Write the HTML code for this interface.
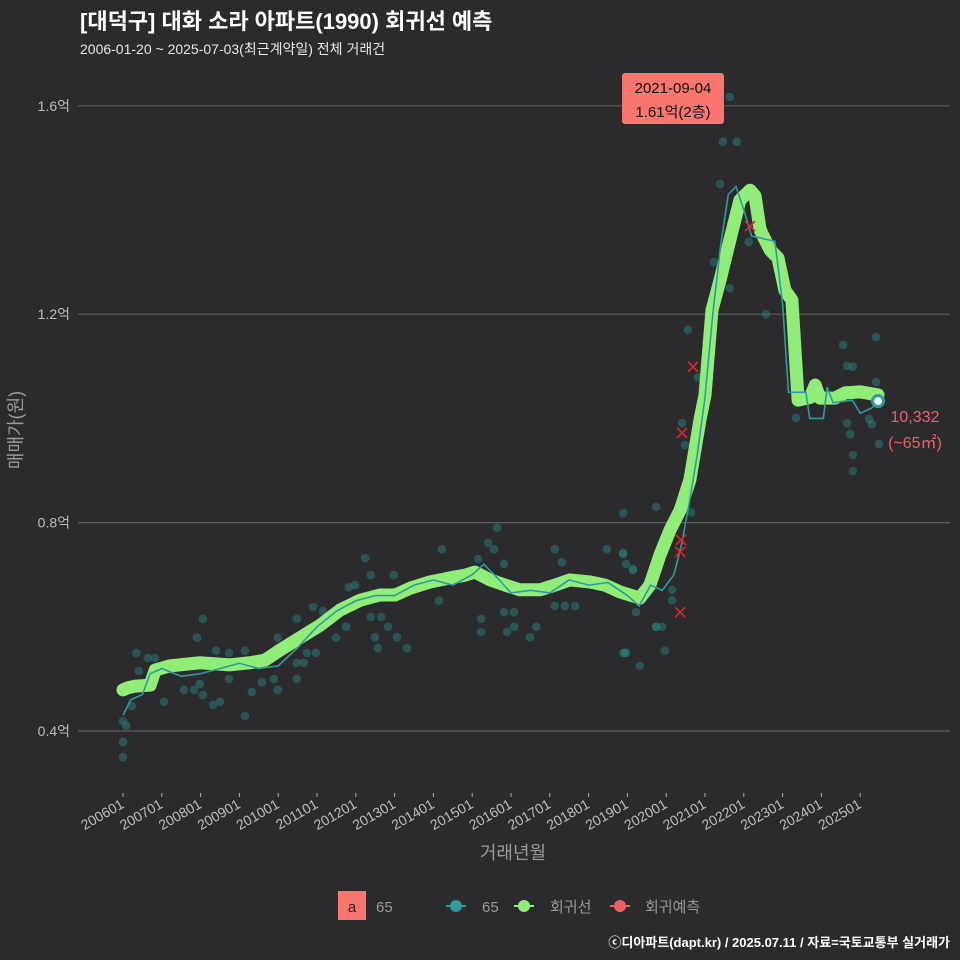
<!DOCTYPE html>
<html><head><meta charset="utf-8"><style>
body{margin:0;background:#2b2b2d;}
svg{display:block;font-family:"Liberation Sans","Noto Sans CJK KR",sans-serif;}
</style></head><body>
<svg id="c" width="960" height="960" viewBox="0 0 960 960">
<rect width="960" height="960" fill="#2b2b2d"/>
<text x="80" y="29" fill="#fff" font-size="22" font-weight="bold">[대덕구] 대화 소라 아파트(1990) 회귀선 예측</text>
<text x="80" y="54" fill="#e8e8e8" font-size="14">2006-01-20 ~ 2025-07-03(최근계약일) 전체 거래건</text>
<g id="grid"></g><g id="dots"></g><g id="lines"></g><g id="xticks"></g>
<text x="513" y="859" fill="#9a9a9a" font-size="18" text-anchor="middle">거래년월</text>
<text transform="translate(22,430) rotate(-90)" fill="#9a9a9a" font-size="18" text-anchor="middle">매매가(원)</text>
<g>
<rect x="338" y="891" width="28" height="29" fill="#f8766d"/>
<text x="352" y="912" font-size="15" text-anchor="middle" fill="#222">a</text>
<text x="376" y="912" font-size="15" fill="#999">65</text>
<g><line x1="446" y1="906" x2="466" y2="906" stroke="#2e9a9e" stroke-width="2"/><circle cx="456" cy="906" r="6" fill="#2e9a9e"/><text x="482" y="912" font-size="15" fill="#999">65</text></g>
<g><line x1="514" y1="906" x2="534" y2="906" stroke="#90ee78" stroke-width="2"/><circle cx="524" cy="906" r="6" fill="#90ee78"/><text x="550" y="912" font-size="15" fill="#999">회귀선</text></g>
<g><line x1="610" y1="906" x2="630" y2="906" stroke="#f06060" stroke-width="2"/><circle cx="620" cy="906" r="6" fill="#f06060"/><text x="645" y="912" font-size="15" fill="#999">회귀예측</text></g>
</g>
<text x="950" y="947" fill="#fff" font-size="13" font-weight="bold" text-anchor="end">ⓒ디아파트(dapt.kr) / 2025.07.11 / 자료=국토교통부 실거래가</text>
</svg>
<script>
const yTicks=[0.4,0.8,1.2,1.6];
const xTickYears=[2006,2007,2008,2009,2010,2011,2012,2013,2014,2015,2016,2017,2018,2019,2020,2021,2022,2023,2024,2025];
const regT=[2006.0,2006.13,2006.31,2006.70,2006.83,2007.21,2007.98,2008.76,2009.27,2009.66,2010.04,2010.56,2011.08,2011.59,2012.11,2012.62,2013.01,2013.40,2013.91,2014.43,2014.81,2015.07,2015.46,2015.85,2016.23,2016.75,2017.13,2017.52,2018.04,2018.42,2018.81,2019.32,2019.58,2019.84,2020.10,2020.36,2020.61,2020.87,2021.0,2021.18,2021.39,2021.64,2021.90,2022.16,2022.29,2022.42,2022.68,2022.88,2023.06,2023.24,2023.40,2023.71,2023.84,2023.96,2024.35,2024.61,2024.99,2025.46];
const regV=[0.479,0.483,0.486,0.488,0.517,0.525,0.531,0.527,0.531,0.536,0.555,0.579,0.603,0.632,0.651,0.661,0.661,0.674,0.686,0.694,0.699,0.705,0.690,0.680,0.671,0.671,0.680,0.690,0.686,0.680,0.667,0.655,0.680,0.738,0.786,0.824,0.882,0.997,1.045,1.208,1.266,1.342,1.419,1.438,1.427,1.362,1.323,1.308,1.246,1.227,1.035,1.040,1.064,1.039,1.039,1.049,1.051,1.045];
const actT=[2006.0,2006.2,2006.5,2006.7,2007.0,2007.5,2008,2008.5,2009,2009.5,2010,2010.5,2011,2011.5,2012,2012.5,2013,2013.5,2014,2014.5,2015,2015.3,2015.7,2016,2016.5,2017,2017.5,2018,2018.5,2019,2019.3,2019.6,2019.9,2020.2,2020.4,2020.6,2020.8,2021.0,2021.2,2021.4,2021.6,2021.8,2022.0,2022.2,2022.8,2023.0,2023.15,2023.6,2023.7,2024.05,2024.15,2024.3,2024.8,2025.0,2025.3,2025.46];
const actV=[0.43,0.46,0.47,0.51,0.52,0.505,0.51,0.52,0.53,0.52,0.525,0.56,0.60,0.63,0.65,0.66,0.66,0.68,0.69,0.68,0.70,0.72,0.69,0.665,0.67,0.665,0.69,0.68,0.685,0.66,0.64,0.68,0.67,0.70,0.76,0.84,0.93,1.04,1.20,1.33,1.43,1.445,1.40,1.35,1.34,1.22,1.05,1.05,1.00,1.00,1.06,1.03,1.035,1.01,1.02,1.033];
const dotT=[2006.0,2006.0,2006.08,2006.0,2006.23,2006.34,2006.41,2006.64,2006.82,2007.06,2007.57,2007.83,2007.91,2008.06,2007.98,2008.06,2008.32,2008.50,2008.40,2008.73,2008.73,2009.14,2009.14,2009.32,2009.58,2009.89,2009.99,2009.99,2010.48,2010.48,2010.66,2010.48,2010.90,2011.15,2010.74,2010.97,2011.49,2011.75,2011.82,2011.98,2012.24,2012.39,2012.39,2012.65,2012.49,2012.57,2012.83,2013.06,2013.32,2012.98,2014.22,2014.14,2015.15,2015.41,2015.64,2015.56,2015.82,2015.23,2015.23,2015.82,2016.08,2015.90,2016.08,2016.49,2016.65,2017.13,2017.31,2017.13,2017.39,2017.65,2018.47,2018.89,2018.96,2019.14,2018.89,2018.89,2018.96,2019.32,2019.74,2019.22,2021.39,2021.23,2021.64,2022.57,2022.13,2020.56,2020.82,2020.41,2020.48,2019.74,2020.64,2018.89,2019.14,2020.15,2020.15,2019.74,2019.89,2019.97,2018.94,2024.56,2025.41,2024.66,2024.81,2025.41,2023.35,2024.66,2024.74,2025.23,2025.30,2025.48,2024.81,2024.81,2021.64,2021.46,2021.82];
const dotV=[0.350,0.379,0.410,0.419,0.448,0.550,0.515,0.540,0.540,0.456,0.479,0.479,0.579,0.615,0.490,0.469,0.450,0.456,0.554,0.550,0.500,0.554,0.429,0.475,0.494,0.500,0.479,0.579,0.500,0.531,0.531,0.615,0.638,0.630,0.550,0.550,0.579,0.600,0.676,0.680,0.732,0.699,0.619,0.619,0.580,0.559,0.600,0.580,0.559,0.699,0.749,0.650,0.730,0.761,0.790,0.749,0.721,0.615,0.590,0.628,0.628,0.590,0.600,0.580,0.600,0.749,0.724,0.640,0.640,0.640,0.749,0.740,0.721,0.709,0.818,0.550,0.550,0.525,0.600,0.628,1.450,1.300,1.250,1.200,1.339,1.170,1.079,0.991,0.949,0.830,0.820,0.742,0.711,0.671,0.651,0.600,0.600,0.554,0.550,1.141,1.156,1.101,1.099,1.070,1.001,0.991,0.970,0.999,0.989,0.951,0.930,0.899,1.617,1.531,1.531];
const predT=[2020.36,2020.38,2020.36,2020.41,2020.69,2022.16];
const predV=[0.628,0.767,0.744,0.972,1.099,1.369];
const lastT=2025.46, lastV=1.0332;

const NS='http://www.w3.org/2000/svg';
const X=t=>123+(t-2006)*38.8;
const Y=v=>731-(v-0.4)/0.4*208.4;
function mk(tag,attrs,parent){const e=document.createElementNS(NS,tag);for(const k in attrs)e.setAttribute(k,attrs[k]);parent.appendChild(e);return e;}
const grid=document.getElementById('grid'),dots=document.getElementById('dots'),lines=document.getElementById('lines'),xt=document.getElementById('xticks');
yTicks.forEach(v=>{
  const l=mk('line',{x1:78,x2:950,y1:Y(v),y2:Y(v),stroke:'#5c5c5c','stroke-width':1.2},grid);
  
  
  const t=mk('text',{x:70,y:Y(v)+5,fill:'#bdbdbd','font-size':14,'text-anchor':'end'},grid);
  t.textContent=v.toFixed(1)+'억';
  
  
});
xTickYears.forEach(yr=>{
  const x=X(yr);
  mk('line',{x1:x,x2:x,y1:793,y2:797,stroke:'#aaa'},xt);
  const t=mk('text',{x:0,y:0,fill:'#bdbdbd','font-size':14,'text-anchor':'end',transform:`translate(${x+2},${807}) rotate(-30)`},xt);
  t.textContent=yr+'01';
  
  
});
dotT.forEach((t,i)=>{
  const c=mk('circle',{cx:X(t),cy:Y(dotV[i]),r:4.3,fill:'#2a8080','fill-opacity':0.5},dots);
  
  
});
const rp=mk('polyline',{points:regT.map((t,i)=>X(t)+','+Y(regV[i])).join(' '),fill:'none',stroke:'#90ee78','stroke-width':13,'stroke-linejoin':'round','stroke-linecap':'round'},lines);


const ap=mk('polyline',{points:actT.map((t,i)=>X(t)+','+Y(actV[i])).join(' '),fill:'none',stroke:'#2e9a9e','stroke-width':1.6},lines);


predT.forEach((t,i)=>{
  const x=X(t),y=Y(predV[i]);
  const g=mk('path',{d:`M${x-5},${y-5}L${x+5},${y+5}M${x-5},${y+5}L${x+5},${y-5}`,stroke:'#e02828','stroke-width':1.6},lines);
  
  
});
const ec=mk('circle',{cx:X(lastT),cy:Y(lastV),r:5.5,fill:'#fff',stroke:'#2e9a9e','stroke-width':3},lines);


const l1=mk('text',{x:915,y:Y(lastV)+21,fill:'#f06060','font-size':16,'text-anchor':'middle'},lines);
l1.textContent='10,332';


const l2=mk('text',{x:915,y:Y(lastV)+47,fill:'#f06060','font-size':16,'text-anchor':'middle'},lines);
l2.textContent='(~65㎡)';


const tb=mk('rect',{x:622,y:73,width:102,height:51,rx:3,fill:'#f8766d'},lines);


const t1=mk('text',{x:673,y:93,fill:'#111','font-size':15,'text-anchor':'middle'},lines);
t1.textContent='2021-09-04';


const t2=mk('text',{x:673,y:117,fill:'#111','font-size':15,'text-anchor':'middle'},lines);
t2.textContent='1.61억(2층)';


</script>
</body></html>
